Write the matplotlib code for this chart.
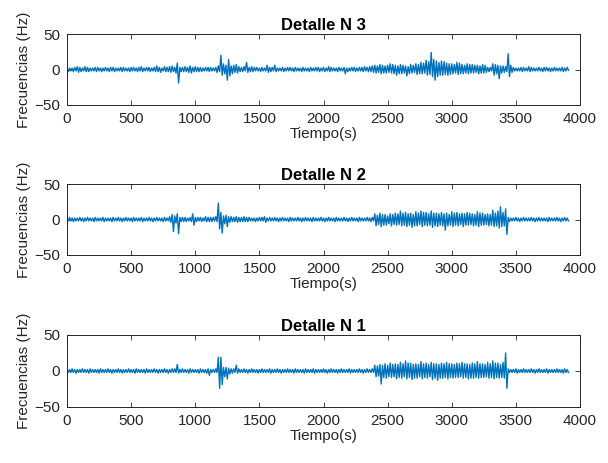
import numpy as np
import matplotlib
matplotlib.use("Agg")
import matplotlib.pyplot as plt

plt.rcParams['font.family'] = ['Liberation Sans', 'DejaVu Sans']

titles = ["Detalle N 3", "Detalle N 2", "Detalle N 1"]
xlabel = "Tiempo(s)"
ylabel = "Frecuencias (Hz)"
xticks = [0, 500, 1000, 1500, 2000, 2500, 3000, 3500, 4000]
yticks = [-50, 0, 50]

# 20 s bins starting at 0 s (0..3900); each bin read as upper and lower excursion
bin_step = 20

n3_hi = [3, 2, 2, 3, 4, 3, 2, 4, 3, 2, 2, 3, 3, 2, 2, 3, 2, 3, 3, 2,
         2, 3, 3, 2, 2, 3, 3, 2, 3, 4, 2, 3, 3, 2, 3, 5, 3, 2, 4, 3,
         4, 5, 3, 9, 3, 3, 4, 3, 5, 3, 4, 3, 3, 2, 3, 3, 3, 2, 3, 5,
         20, 8, 6, 14, 5, 6, 7, 4, 3, 4, 10, 3, 4, 3, 3, 2, 3, 2, 6, 3,
         3, 6, 2, 2, 3, 2, 3, 3, 2, 3, 2, 2, 3, 2, 2, 3, 2, 3, 3, 2,
         3, 2, 4, 3, 2, 2, 3, 2, 3, 2, 2, 3, 3, 2, 3, 3, 4, 3, 4, 5,
         6, 5, 7, 6, 5, 6, 8, 7, 6, 5, 7, 6, 5, 4, 7, 6, 8, 7, 10, 9,
         13, 11, 24, 14, 12, 10, 12, 11, 9, 8, 8, 7, 10, 9, 7, 6, 8, 7, 7, 6,
         6, 5, 7, 6, 3, 3, 8, 7, 6, 5, 5, 4, 22, 6, 3, 2, 2, 3, 3, 2,
         4, 3, 2, 2, 3, 2, 3, 3, 2, 2, 3, 2, 2, 3, 2, 3]
n3_lo = [-3, -2, -3, -2, -4, -3, -2, -3, -3, -2, -2, -3, -2, -3, -2, -2, -3, -2, -3, -2,
         -2, -3, -2, -2, -3, -2, -2, -3, -2, -3, -2, -2, -3, -2, -3, -3, -4, -2, -3, -3,
         -4, -3, -5, -19, -3, -3, -3, -4, -5, -3, -3, -3, -3, -2, -2, -3, -2, -2, -4, -3,
         -8, -6, -15, -9, -6, -4, -5, -3, -3, -2, -4, -3, -3, -2, -2, -3, -2, -2, -4, -3,
         -2, -3, -2, -2, -3, -2, -2, -2, -3, -2, -2, -3, -2, -2, -3, -2, -2, -2, -3, -2,
         -3, -2, -3, -2, -2, -3, -2, -2, -6, -3, -2, -2, -3, -2, -2, -3, -2, -3, -3, -4,
         -5, -4, -6, -5, -5, -4, -5, -6, -8, -6, -6, -5, -9, -6, -5, -4, -7, -6, -6, -5,
         -8, -7, -10, -15, -10, -8, -8, -7, -8, -7, -6, -5, -7, -6, -6, -5, -6, -5, -5, -4,
         -6, -5, -5, -4, -3, -2, -8, -6, -13, -5, -4, -3, -10, -4, -2, -2, -2, -3, -2, -2,
         -3, -2, -2, -2, -2, -3, -2, -2, -3, -2, -2, -2, -2, -3, -2, -1]

n2_hi = [2, 3, 2, 2, 2, 3, 2, 2, 3, 2, 2, 3, 2, 2, 3, 2, 2, 2, 3, 2,
         3, 2, 2, 3, 2, 2, 3, 2, 2, 3, 2, 2, 3, 2, 2, 3, 2, 2, 3, 2,
         4, 7, 5, 8, 3, 3, 3, 2, 3, 8, 3, 3, 3, 2, 4, 3, 3, 3, 4, 23,
         10, 5, 6, 4, 4, 3, 4, 3, 3, 4, 3, 3, 2, 2, 2, 3, 3, 4, 2, 3,
         2, 3, 2, 2, 3, 2, 2, 3, 2, 2, 3, 2, 2, 3, 2, 2, 3, 2, 2, 3,
         2, 2, 3, 2, 2, 3, 2, 2, 3, 2, 2, 3, 2, 2, 3, 2, 2, 3, 2, 3,
         8, 6, 9, 7, 7, 5, 8, 7, 9, 8, 12, 9, 10, 8, 9, 7, 11, 9, 12, 10,
         10, 8, 12, 9, 9, 8, 10, 8, 9, 7, 11, 9, 10, 8, 9, 8, 10, 9, 8, 7,
         11, 9, 9, 7, 8, 7, 13, 9, 12, 18, 10, 15, 3, 2, 2, 3, 2, 2, 3, 2,
         2, 3, 2, 2, 3, 2, 2, 2, 3, 2, 2, 3, 2, 2, 3, 2]
n2_lo = [-2, -2, -3, -2, -2, -2, -3, -2, -2, -2, -3, -2, -2, -2, -3, -2, -2, -3, -2, -2,
         -2, -3, -2, -2, -2, -3, -2, -2, -2, -3, -2, -2, -2, -3, -2, -2, -2, -3, -2, -2,
         -4, -17, -5, -20, -3, -3, -3, -2, -3, -8, -3, -2, -3, -2, -3, -3, -3, -2, -3, -13,
         -19, -6, -10, -4, -3, -3, -4, -3, -3, -3, -3, -2, -2, -3, -2, -2, -2, -4, -2, -2,
         -2, -2, -3, -2, -2, -2, -3, -2, -2, -2, -2, -3, -2, -2, -2, -3, -2, -2, -2, -2,
         -3, -2, -2, -2, -3, -2, -2, -2, -2, -3, -2, -2, -2, -3, -2, -2, -2, -2, -3, -2,
         -9, -7, -10, -8, -8, -6, -9, -7, -8, -7, -9, -8, -10, -8, -11, -9, -9, -7, -10, -8,
         -9, -8, -11, -9, -10, -8, -9, -15, -9, -8, -10, -8, -9, -7, -10, -8, -8, -7, -9, -8,
         -10, -8, -8, -7, -9, -8, -10, -9, -12, -10, -9, -21, -3, -2, -2, -2, -3, -2, -2, -2,
         -2, -2, -3, -2, -2, -2, -2, -3, -2, -2, -2, -2, -3, -2, -2, -2]

n1_hi = [2, 2, 3, 2, 2, 2, 3, 2, 2, 3, 2, 2, 2, 3, 2, 2, 3, 2, 2, 2,
         3, 2, 2, 2, 3, 2, 2, 3, 2, 2, 2, 3, 2, 2, 3, 2, 2, 2, 3, 2,
         2, 3, 3, 9, 2, 3, 2, 2, 3, 2, 2, 2, 3, 2, 2, 3, 2, 2, 3, 19,
         19, 5, 5, 4, 3, 3, 8, 3, 2, 3, 2, 2, 3, 2, 2, 2, 3, 2, 2, 3,
         2, 2, 3, 2, 2, 2, 3, 2, 2, 3, 2, 2, 2, 3, 2, 2, 3, 2, 2, 2,
         3, 2, 2, 3, 2, 2, 2, 3, 2, 2, 3, 2, 2, 2, 3, 2, 2, 3, 2, 3,
         8, 7, 9, 8, 10, 8, 11, 9, 10, 9, 12, 10, 14, 11, 11, 9, 10, 9, 13, 10,
         11, 9, 12, 10, 10, 9, 11, 10, 12, 10, 10, 9, 11, 10, 12, 10, 10, 9, 11, 10,
         13, 10, 10, 9, 12, 10, 14, 11, 11, 9, 12, 25, 3, 2, 2, 3, 2, 2, 3, 2,
         2, 3, 2, 2, 3, 2, 2, 3, 2, 2, 2, 3, 2, 2, 3, 2]
n1_lo = [-2, -2, -2, -3, -2, -2, -2, -2, -3, -2, -2, -2, -3, -2, -2, -2, -2, -3, -2, -2,
         -2, -3, -2, -2, -2, -2, -3, -2, -2, -2, -3, -2, -2, -2, -2, -3, -2, -2, -2, -3,
         -2, -2, -2, -3, -2, -2, -2, -3, -2, -2, -2, -3, -2, -2, -3, -6, -2, -2, -2, -24,
         -19, -8, -11, -4, -3, -2, -3, -2, -2, -2, -3, -2, -2, -2, -3, -2, -2, -2, -2, -3,
         -2, -2, -2, -3, -2, -2, -2, -2, -3, -2, -2, -2, -3, -2, -2, -2, -3, -2, -2, -2,
         -2, -3, -2, -2, -2, -3, -2, -2, -2, -2, -3, -2, -2, -2, -2, -3, -2, -2, -2, -2,
         -8, -7, -18, -9, -10, -8, -9, -8, -11, -9, -10, -8, -11, -9, -12, -10, -10, -8, -11, -9,
         -10, -8, -12, -10, -13, -10, -10, -9, -11, -9, -10, -9, -9, -8, -10, -9, -11, -10, -10, -9,
         -10, -9, -9, -8, -10, -9, -11, -9, -10, -9, -10, -24, -2, -2, -2, -3, -2, -2, -2, -2,
         -2, -2, -3, -2, -2, -2, -2, -3, -2, -2, -2, -2, -2, -3, -2, -2]

series = [(n3_hi, n3_lo), (n2_hi, n2_lo), (n1_hi, n1_lo)]

W, H = 608, 463
fig = plt.figure(figsize=(W / 100, H / 100), dpi=100)
# (top, bottom) in pixels for each panel
panels = [(34, 105), (184, 255), (335, 407)]
left_px, right_px = 67, 580

line_color = '#0072BD'
axis_color = '#262626'

for (top, bot), title, (hi, lo) in zip(panels, titles, series):
    ax = fig.add_axes([left_px / W, 1 - bot / H, (right_px - left_px) / W, (bot - top) / H])
    vals = np.empty(2 * len(hi))
    vals[0::2] = hi
    vals[1::2] = lo
    t = np.arange(len(vals)) * (bin_step / 2)
    ax.plot(t, vals, color=line_color, linewidth=1.0)
    ax.set_xlim(0, 4000)
    ax.set_ylim(-50, 50)
    ax.set_xticks(xticks)
    ax.set_yticks(yticks)
    ax.tick_params(direction='in', top=True, right=True, length=3.5, width=0.6,
                   labelsize=11, colors=axis_color, pad=5)
    for s in ax.spines.values():
        s.set_color(axis_color)
        s.set_linewidth(0.7)
    ax.set_title(title, fontsize=12, fontweight='bold', color='black', pad=3)
    ax.set_xlabel(xlabel, fontsize=11, color=axis_color, labelpad=1)
    ax.set_ylabel(ylabel, fontsize=11, color=axis_color, labelpad=2)

fig.savefig("out.png", dpi=100)
